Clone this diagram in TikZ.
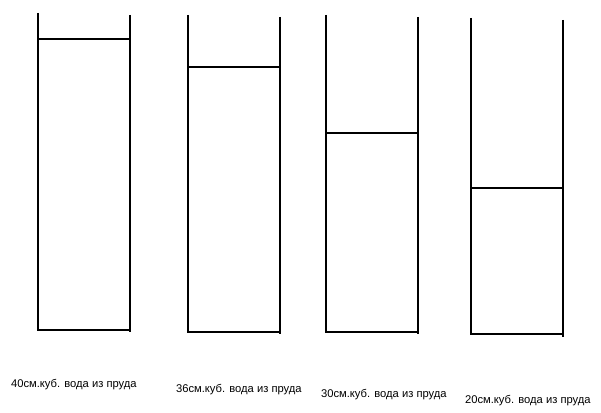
\documentclass[tikz,border=0pt]{standalone}
\usepackage{fontspec, tikz}
\setmainfont{Liberation Sans}

\begin{document}
\begin{tikzpicture}[x=0.75pt,y=-0.75pt,line width=1.6pt]
\useasboundingbox (0,0) rectangle (601,413);

% Jar 1
\draw (38,13) -- (38,330) -- (130,330);
\draw (130,15) -- (130,332);
\draw (38,39) -- (130,39);

% Jar 2
\draw (188,15) -- (188,332) -- (280,332);
\draw (280,17) -- (280,334);
\draw (188,67) -- (280,67);

% Jar 3
\draw (326,15) -- (326,332) -- (418,332);
\draw (418,17) -- (418,334);
\draw (326,133) -- (418,133);

% Jar 4
\draw (471,18) -- (471,334) -- (563,334);
\draw (563,20) -- (563,337);
\draw (471,188) -- (563,188);

% Labels
\node[anchor=west,inner sep=0pt,font=\fontsize{8.4}{10}\selectfont] (label1) at (10,385) {40см.куб. вода из пруда};
\node[anchor=west,inner sep=0pt,font=\fontsize{8.4}{10}\selectfont] (label2) at (175,390) {36см.куб. вода из пруда};
\node[anchor=west,inner sep=0pt,font=\fontsize{8.4}{10}\selectfont] (label3) at (320,395) {30см.куб. вода из пруда};
\node[anchor=west,inner sep=0pt,font=\fontsize{8.4}{10}\selectfont] (label4) at (464,401) {20см.куб. вода из пруда};

\end{tikzpicture}
\end{document}
